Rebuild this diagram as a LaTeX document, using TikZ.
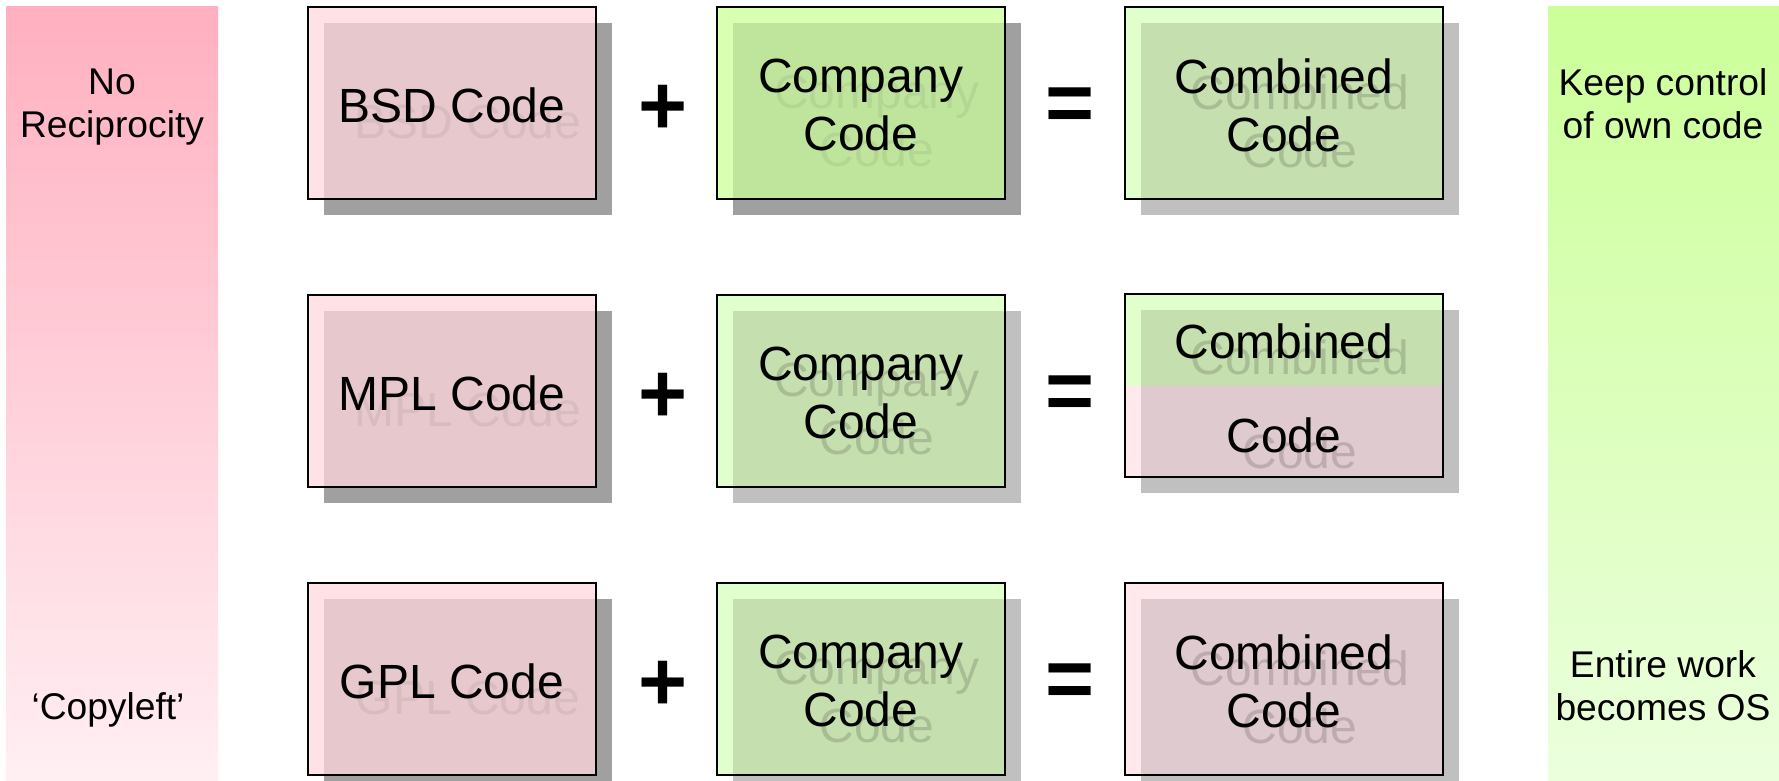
\documentclass[tikz,border=0pt]{standalone}
\usepackage{fontspec}
\setmainfont{Liberation Sans}
\usetikzlibrary{positioning}

\definecolor{barpink}{HTML}{FFB0C0}
\definecolor{barpinklight}{HTML}{FFEFF3}
\definecolor{bargreen}{HTML}{CCFF99}
\definecolor{bargreenlight}{HTML}{EBFFDD}
\definecolor{pinkface}{HTML}{FFE1E6}
\definecolor{pinkshade}{HTML}{E6C8CD}
\definecolor{paleface}{HTML}{FFE9ED}
\definecolor{paleshade}{HTML}{DFCACF}
\definecolor{greenface}{HTML}{D9FFB3}
\definecolor{greenshade}{HTML}{BFE59C}
\definecolor{limeface}{HTML}{E0FFCC}
\definecolor{limeshade}{HTML}{C6DFAE}
\definecolor{darkshadow}{HTML}{A0A0A0}
\definecolor{lightshadow}{HTML}{C0C0C0}

\tikzset{
  boxtext/.style={text=black, align=center, font=\fontsize{24}{29}\selectfont, inner sep=0pt},
  sidetext/.style={text=black, align=center, font=\fontsize{18.6}{21.6}\selectfont, inner sep=0pt},
  optext/.style={text=black, font=\fontsize{42}{42}\selectfont\bfseries, inner sep=0pt},
  frame/.style={draw=black, line width=1pt},
  heavy/.style={fill=darkshadow, text opacity=0.06},
  soft/.style={fill=lightshadow, text opacity=0.15},
}

% box with drop shadow: name, left, top, width, height, face, shaded face, shadow, text
\newcommand{\codebox}[9]{%
  \fill[#8] (#2+16,#3+16) rectangle ++(#4,#5);
  \fill[#6] (#2,#3) rectangle ++(#4,#5);
  \fill[#7] (#2+16,#3+16) rectangle (#2+#4,#3+#5);
  \node[boxtext,#8,fill=none] (#1-sh) at (#2+#4/2+16,#3+#5/2+18) {#9};
  \node[boxtext] (#1) at (#2+#4/2,#3+#5/2+2) {#9};
  \draw[frame] (#2,#3) rectangle ++(#4,#5);
}

\begin{document}
\begin{tikzpicture}[x=0.5pt,y=-0.5pt]
    \useasboundingbox (0,0) rectangle (1779,781);

    % Side bars
    \shade[top color=barpink, bottom color=barpinklight] (6,7) rectangle (218,780);
    \shade[top color=bargreen, bottom color=bargreenlight] (1548,7) rectangle (1780,780);
    \node[sidetext] (norecip) at (112,107) {No\\Reciprocity};
    \node[sidetext] (copyleft) at (108,710) {‘Copyleft’};
    \node[sidetext] (control) at (1663,104) {Keep control\\of own code};
    \node[sidetext] (entire) at (1663,686) {Entire work\\becomes OS};

    % Licensed code
    \foreach \y/\name/\lic in {7/bsd/BSD, 295/mpl/MPL, 583/gpl/GPL}
        \codebox{\name}{308}{\y}{288}{192}{pinkface}{pinkshade}{heavy}{\lic\ Code};

    % Company code
    \codebox{comp1}{717}{7}{288}{192}{greenface}{greenshade}{heavy}{Company\\Code};
    \codebox{comp2}{717}{295}{288}{192}{limeface}{limeshade}{soft}{Company\\Code};
    \codebox{comp3}{717}{583}{288}{192}{limeface}{limeshade}{soft}{Company\\Code};

    % Combined code
    \codebox{comb1}{1125}{7}{318}{192}{limeface}{limeshade}{soft}{Combined\\Code};
    \codebox{comb3}{1125}{583}{318}{192}{paleface}{paleshade}{soft}{Combined\\Code};

    % split box: own part on top, licensed part below
    \fill[soft] (1141,310) rectangle ++(318,183);
    \fill[limeface] (1125,294) rectangle (1443,386);
    \fill[paleface] (1125,386) rectangle (1443,477);
    \fill[limeshade] (1141,310) rectangle (1443,386);
    \fill[paleshade] (1141,386) rectangle (1443,477);
    \node[boxtext,soft,fill=none] (comb2a-sh) at (1300,357) {Combined};
    \node[boxtext,soft,fill=none] (comb2b-sh) at (1300,451) {Code};
    \node[boxtext] (comb2a) at (1284,341) {Combined};
    \node[boxtext] (comb2b) at (1284,435) {Code};
    \draw[frame] (1125,294) rectangle (1443,477);

    % Operators
    \foreach \row/\y in {1/110, 2/398, 3/686}
        {
            \node[optext] (plus\row) at (663,\y) {+};
            \node[optext] (eq\row) at (1070,\y) {=};
        }
\end{tikzpicture}
\end{document}
